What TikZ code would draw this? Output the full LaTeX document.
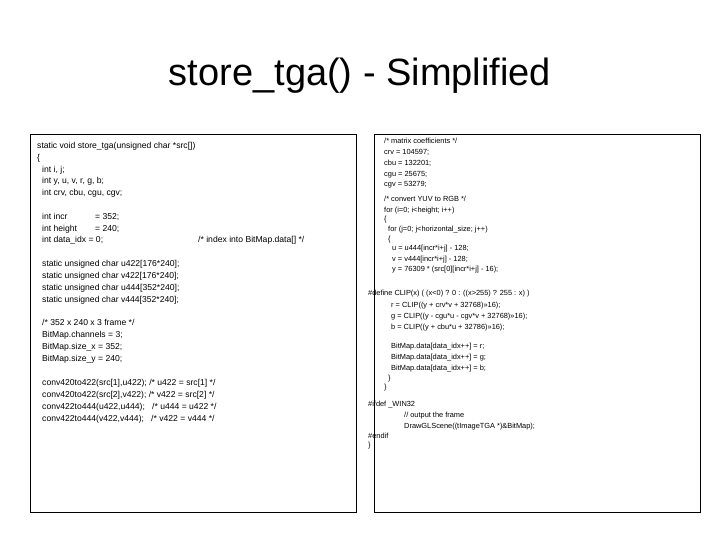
\documentclass[tikz,border=0pt]{standalone}
\usepackage{fontspec}
\setmainfont{Liberation Sans}
\begin{document}
\begin{tikzpicture}[x=1pt,y=-1pt,
  lt/.style={anchor=base west,inner sep=0pt,font=\fontsize{8.6}{10}\selectfont},
  rt/.style={anchor=base west,inner sep=0pt,font=\fontsize{7.4}{9}\selectfont},
  panel/.style={draw=black,line width=1pt}]
\useasboundingbox (0,0) rectangle (720,540);
\node[anchor=base,inner sep=0pt,font=\fontsize{38}{40}\selectfont] (title) at (360,86) {store\_tga() - Simplified};
\draw[panel] (30.5,135) rectangle (356,512);
\draw[panel] (374,135) rectangle (700,512);
% left panel
\foreach \x/\y/\t [count=\i] in {
 37/149/{static void store\_tga(unsigned char *src[])},
 37/161/{\{},
 42/173/{int i, j;},
 42/184/{int y, u, v, r, g, b;},
 42/196/{int crv, cbu, cgu, cgv;},
 42/219/{int incr},
 42/231/{int height},
 42/243/{int data\_idx = 0;},
 42/266/{static unsigned char u422[176*240];},
 42/278/{static unsigned char v422[176*240];},
 42/290/{static unsigned char u444[352*240];},
 42/302/{static unsigned char v444[352*240];},
 42/325/{/* 352 x 240 x 3 frame */},
 42/337/{BitMap.channels = 3;},
 42/349/{BitMap.size\_x = 352;},
 42/361/{BitMap.size\_y = 240;},
 42/385/{conv420to422(src[1],u422); /* u422 = src[1] */},
 42/397/{conv420to422(src[2],v422); /* v422 = src[2] */},
 42/409/{conv422to444(u422,u444);\ \ \ /* u444 = u422 */},
 42/421/{conv422to444(v422,v444);\ \ \ /* v422 = v444 */},
 95/219/{= 352;},
 95/231/{= 240;},
 198/243/{/* index into BitMap.data[] */}}
 \node[lt] (l\i) at (\x,\y) {\t};
% right panel
\foreach \x/\y/\t [count=\i] in {
 384/144/{/* matrix coefficients */},
 384/155/{crv = 104597;},
 384/166/{cbu = 132201;},
 384/177/{cgu = 25675;},
 384/187/{cgv = 53279;},
 384/202/{/* convert YUV to RGB */},
 384/212/{for (i=0; i<height; i++)},
 384/222/{\{},
 388/231/{for (j=0; j<horizontal\_size; j++)},
 388/241/{\{},
 392/251/{u = u444[incr*i+j] - 128;},
 392/261/{v = v444[incr*i+j] - 128;},
 392/271/{y = 76309 * (src[0][incr*i+j] - 16);},
 368/295/{\#define CLIP(x) ( (x<0) ? 0 : ((x>255) ? 255 : x) )},
 391/307/{r = CLIP((y + crv*v + 32768)>>16);},
 391/318/{g = CLIP((y - cgu*u - cgv*v + 32768)>>16);},
 391/329/{b = CLIP((y + cbu*u + 32786)>>16);},
 391/348/{BitMap.data[data\_idx++] = r;},
 391/359/{BitMap.data[data\_idx++] = g;},
 391/370/{BitMap.data[data\_idx++] = b;},
 388/380/{\}},
 384/389/{\}},
 368/406/{\#ifdef \_WIN32},
 404/417/{// output the frame},
 404/428/{DrawGLScene((tImageTGA *)\&BitMap);},
 368/438/{\#endif},
 368/447/{\}}}
 \node[rt] (r\i) at (\x,\y) {\t};
\end{tikzpicture}
\end{document}
